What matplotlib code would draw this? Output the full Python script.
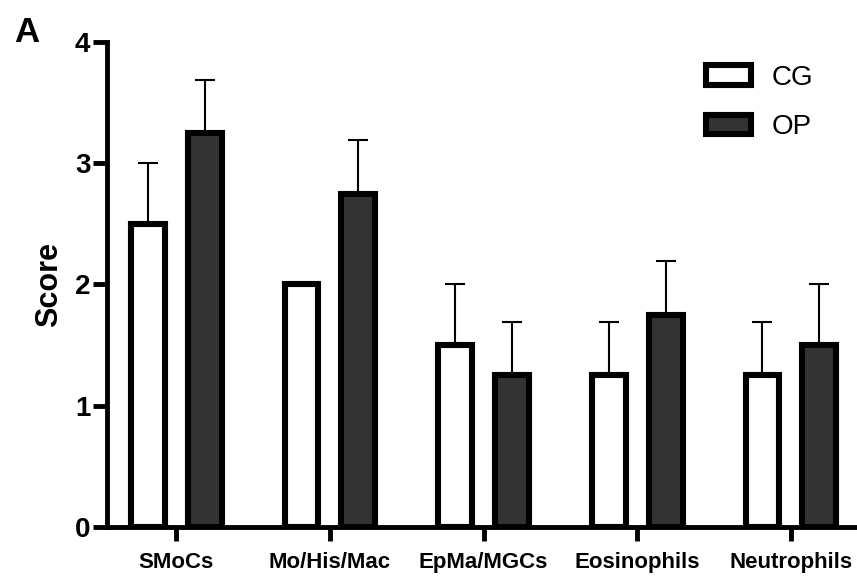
import matplotlib.pyplot as plt
import numpy as np

plt.rcParams['font.family'] = ['Liberation Sans', 'DejaVu Sans']

categories = ["SMoCs", "Mo/His/Mac", "EpMa/MGCs", "Eosinophils", "Neutrophils"]
cg_mean = [2.5, 2.0, 1.5, 1.25, 1.25]
cg_err = [0.5, 0.0, 0.5, 0.44, 0.44]
op_mean = [3.25, 2.75, 1.25, 1.75, 1.5]
op_err = [0.44, 0.44, 0.44, 0.44, 0.5]

fig = plt.figure(figsize=(8.57, 5.76), dpi=100)
ax = fig.add_axes([0.1249, 0.0851, 0.875, 0.842])

x = np.arange(len(categories))
w = 0.22
off = 0.185

err_kw = dict(fmt="none", ecolor="black", elinewidth=1.5, capsize=7, capthick=1.5, zorder=1)
ax.errorbar(x - off, cg_mean, yerr=[np.zeros(5), cg_err], **err_kw)
ax.errorbar(x + off, op_mean, yerr=[np.zeros(5), op_err], **err_kw)

ax.bar(x - off, cg_mean, w, color="white", edgecolor="black", linewidth=4.4, label="CG", zorder=2)
ax.bar(x + off, op_mean, w, color="#333333", edgecolor="black", linewidth=4.4, label="OP", zorder=2)

ax.set_xlim(-0.45, 4.43)
ax.set_ylim(0, 4)
ax.set_yticks([0, 1, 2, 3, 4])
ax.set_xticks(x)
ax.set_xticklabels(categories, fontsize=16, fontweight="bold")
for t in ax.get_yticklabels():
    t.set_fontsize(20)
    t.set_fontweight("bold")

for s in ["top", "right"]:
    ax.spines[s].set_visible(False)
for s in ["left", "bottom"]:
    ax.spines[s].set_linewidth(3.5)
ax.tick_params(axis="y", length=10, width=3.5, pad=2)
ax.tick_params(axis="x", length=10, width=3.5, pad=8)

ax.set_ylabel("Score", fontsize=22, fontweight="bold", labelpad=8)

ax.legend(loc="upper right", bbox_to_anchor=(0.975, 1.005), frameon=False, fontsize=20,
          handlelength=1.6, handleheight=0.7, handletextpad=0.75, labelspacing=0.85)

fig.text(0.017, 0.927, "A", fontsize=25, fontweight="bold", va="baseline", ha="left")

fig.savefig("out.png", dpi=100)
